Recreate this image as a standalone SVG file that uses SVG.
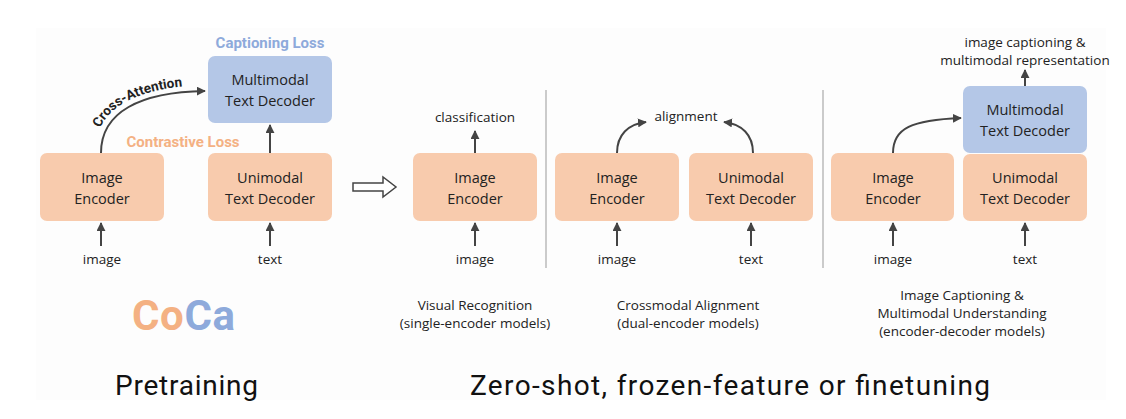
<svg xmlns="http://www.w3.org/2000/svg" width="1126" height="419" viewBox="0 0 1126 419">
<defs>
<marker id="ah" viewBox="0 0 10 10" refX="9" refY="5" markerWidth="4.5" markerHeight="4.5" orient="auto" markerUnits="strokeWidth">
<path d="M0,0 L10,5 L0,10 z" fill="#444"/>
</marker>
<path id="caPath" d="M99,130 C110,104 142,88 200,85"/>
</defs>
<style>
.peach{fill:#f8cbad;}
.blue{fill:#b4c7e7;}
.bt{font-family:"Open Sans","Liberation Sans",sans-serif;font-size:14.5px;fill:#222;text-anchor:middle;}
.lb{font-family:"Open Sans","Liberation Sans",sans-serif;font-size:13.5px;fill:#222;text-anchor:middle;}
.cap{font-family:"Open Sans","Liberation Sans",sans-serif;font-size:13.5px;fill:#222;text-anchor:middle;}
.ln{stroke:#444;stroke-width:2;fill:none;marker-end:url(#ah);}
.div{stroke:#aaa;stroke-width:1.2;}
.big{font-family:Roboto,"Liberation Sans",sans-serif;font-size:28px;fill:#111;}
</style>
<rect x="0" y="0" width="1126" height="419" fill="#ffffff"/>
<rect x="36" y="28" width="1070" height="372" fill="#fdfdfd"/>

<g id="pre-image-encoder"><rect class="peach" x="40" y="153" width="124" height="68" rx="7"/><text class="bt" x="102" y="183">Image</text><text class="bt" x="102" y="204">Encoder</text></g>
<g id="pre-unimodal"><rect class="peach" x="208" y="153" width="124" height="68" rx="7"/><text class="bt" x="270" y="183">Unimodal</text><text class="bt" x="270" y="204">Text Decoder</text></g>
<g id="pre-multimodal"><rect class="blue" x="208" y="56" width="124" height="67" rx="7"/><text class="bt" x="270" y="85">Multimodal</text><text class="bt" x="270" y="106">Text Decoder</text></g>
<g id="pre-labels">
<text x="270" y="48" font-family="Roboto,'Liberation Sans',sans-serif" font-size="15" font-weight="bold" fill="#8eaadb" text-anchor="middle">Captioning Loss</text>
<text x="183" y="147" font-family="Roboto,'Liberation Sans',sans-serif" font-size="15" font-weight="bold" fill="#f4b183" text-anchor="middle">Contrastive Loss</text>
<text font-family="Roboto,'Liberation Sans',sans-serif" font-size="13.5" font-weight="bold" fill="#222"><textPath href="#caPath" startOffset="2">Cross-Attention</textPath></text>
<text class="lb" x="102" y="264">image</text>
<text class="lb" x="270" y="264">text</text>
<text x="132" y="330" font-family="Roboto,'Liberation Sans',sans-serif" font-size="42" font-weight="bold" textLength="103"><tspan fill="#f4b183">Co</tspan><tspan fill="#8eaadb">Ca</tspan></text>
<text class="big" x="115" y="395" textLength="143">Pretraining</text>
</g>

<g id="vr-image-encoder"><rect class="peach" x="413" y="153" width="124" height="68" rx="7"/><text class="bt" x="475" y="183">Image</text><text class="bt" x="475" y="204">Encoder</text></g>
<g id="vr-labels">
<text class="lb" x="475" y="122">classification</text>
<text class="lb" x="475" y="264">image</text>
<text class="cap" x="475" y="310">Visual Recognition</text>
<text class="cap" x="475" y="328">(single-encoder models)</text>
</g>

<g id="ca-image-encoder"><rect class="peach" x="555" y="153" width="124" height="68" rx="7"/><text class="bt" x="617" y="183">Image</text><text class="bt" x="617" y="204">Encoder</text></g>
<g id="ca-unimodal"><rect class="peach" x="689" y="153" width="124" height="68" rx="7"/><text class="bt" x="751" y="183">Unimodal</text><text class="bt" x="751" y="204">Text Decoder</text></g>
<g id="ca-labels">
<text class="lb" x="686" y="121">alignment</text>
<text class="lb" x="617" y="264">image</text>
<text class="lb" x="751" y="264">text</text>
<text class="cap" x="688" y="310">Crossmodal Alignment</text>
<text class="cap" x="688" y="328">(dual-encoder models)</text>
</g>

<g id="ic-image-encoder"><rect class="peach" x="831" y="153" width="123" height="68" rx="7"/><text class="bt" x="893" y="183">Image</text><text class="bt" x="893" y="204">Encoder</text></g>
<g id="ic-unimodal"><rect class="peach" x="963" y="154" width="124" height="67" rx="7"/><text class="bt" x="1025" y="183">Unimodal</text><text class="bt" x="1025" y="204">Text Decoder</text></g>
<g id="ic-multimodal"><rect class="blue" x="963" y="86" width="124" height="67" rx="7"/><text class="bt" x="1025" y="115">Multimodal</text><text class="bt" x="1025" y="136">Text Decoder</text></g>
<g id="ic-labels">
<text class="lb" x="1025" y="47">image captioning &amp;</text>
<text class="lb" x="1025" y="65">multimodal representation</text>
<text class="lb" x="893" y="264">image</text>
<text class="lb" x="1025" y="264">text</text>
<text class="cap" x="962" y="300">Image Captioning &amp;</text>
<text class="cap" x="962" y="318">Multimodal Understanding</text>
<text class="cap" x="962" y="336">(encoder-decoder models)</text>
<text class="big" x="470" y="395" textLength="520">Zero-shot, frozen-feature or finetuning</text>
</g>

<g id="connectors">
<path class="ln" d="M101,153 C101,112 140,92 205,91"/>
<line class="ln" x1="270" y1="153" x2="270" y2="125"/>
<line class="ln" x1="101" y1="246" x2="101" y2="223"/>
<line class="ln" x1="270" y1="246" x2="270" y2="223"/>
<path d="M353,183 L383,183 L383,177 L396,187 L383,197 L383,191 L353,191 Z" fill="#fff" stroke="#444" stroke-width="1.5"/>
<line class="ln" x1="475" y1="153" x2="475" y2="131"/>
<line class="ln" x1="475" y1="246" x2="475" y2="223"/>
<line class="div" x1="546" y1="90" x2="546" y2="268"/>
<path class="ln" d="M617,153 C617,135 628,124 646,122"/>
<path class="ln" d="M753,153 C753,135 742,124 724,122"/>
<line class="ln" x1="617" y1="246" x2="617" y2="223"/>
<line class="ln" x1="751" y1="246" x2="751" y2="223"/>
<line class="div" x1="823" y1="90" x2="823" y2="268"/>
<path class="ln" d="M893,153 C893,128 912,120 961,118"/>
<line class="ln" x1="1025" y1="86" x2="1025" y2="70"/>
<line class="ln" x1="893" y1="246" x2="893" y2="223"/>
<line class="ln" x1="1025" y1="246" x2="1025" y2="223"/>
</g>
</svg>
